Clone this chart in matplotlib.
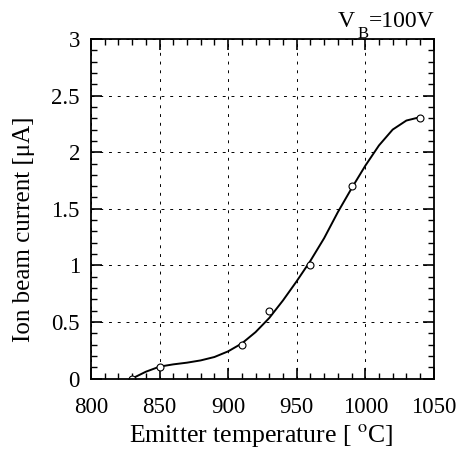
import matplotlib.pyplot as plt
from matplotlib.ticker import MultipleLocator

# measured points
temp_pts = [830, 850, 910, 930, 960, 990, 1040]
current_pts = [0.0, 0.1, 0.3, 0.6, 1.0, 1.7, 2.3]

# fitted curve
temp_curve = [830, 840, 850, 860, 870, 880, 890, 900, 910, 920, 930,
              940, 950, 960, 970, 980, 990, 1000, 1010, 1020, 1030, 1040]
current_curve = [0.0, 0.06, 0.105, 0.125, 0.14, 0.16, 0.19, 0.24, 0.31, 0.41, 0.535,
                 0.69, 0.86, 1.04, 1.24, 1.47, 1.68, 1.88, 2.06, 2.2, 2.28, 2.31]

plt.rcParams['font.family'] = ['Liberation Serif', 'DejaVu Serif']
plt.rcParams['mathtext.fontset'] = 'stix'

fig = plt.figure(figsize=(4.62, 4.49), dpi=100)
ax = fig.add_axes([0.197, 0.157, 0.742, 0.756])

ax.plot(temp_curve, current_curve, color='black', linewidth=1.4)
ax.plot(temp_pts, current_pts, linestyle='none', marker='o', markersize=5,
        markerfacecolor='white', markeredgecolor='black', markeredgewidth=0.8)

ax.set_xlim(800, 1050)
ax.set_ylim(0, 3)
ax.xaxis.set_major_locator(MultipleLocator(50))
ax.xaxis.set_minor_locator(MultipleLocator(10))
ax.yaxis.set_major_locator(MultipleLocator(0.5))
ax.yaxis.set_minor_locator(MultipleLocator(0.1))
ax.set_yticks([0, 0.5, 1, 1.5, 2, 2.5, 3])
ax.set_yticklabels(['0', '0.5', '1', '1.5', '2', '2.5', '3'])

ax.tick_params(which='both', direction='in', top=True, right=True, labelsize=16.5, colors='black')
ax.tick_params(which='major', length=8, width=1.2)
ax.tick_params(axis='x', which='major', pad=13)
ax.tick_params(axis='y', which='major', pad=8)
ax.tick_params(which='minor', length=4.5, width=1.0)
for sp in ax.spines.values():
    sp.set_linewidth(1.3)

ax.grid(True, which='major', color='black', linestyle=(0, (3, 6)), linewidth=0.7)

ax.set_xlabel('Emitter temperature [ $^{\\mathrm{o}}$C]', fontsize=18.5)
ax.set_ylabel('Ion beam current [\u03bcA]', fontsize=18)
ax.xaxis.set_label_coords(0.496, -0.128)
ax.yaxis.set_label_coords(-0.163, 0.44)

fig.text(0.732, 0.94, 'V', fontsize=17, va='baseline')
fig.text(0.773, 0.915, 'B', fontsize=12, va='baseline')
fig.text(0.798, 0.94, '=100V', fontsize=17, va='baseline')

plt.savefig('out.png', dpi=100)
